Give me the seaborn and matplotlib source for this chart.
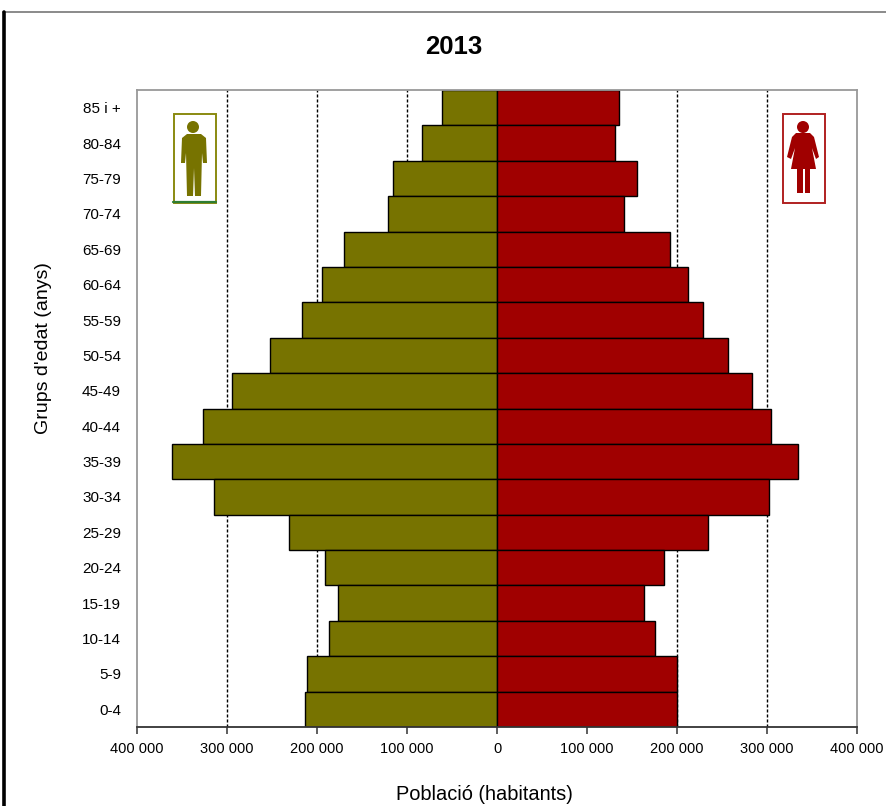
import matplotlib
matplotlib.use("Agg")
import matplotlib.pyplot as plt
import pandas as pd
import seaborn as sns
from matplotlib.lines import Line2D
from matplotlib.patches import Circle, FancyBboxPatch, Polygon, Rectangle
from matplotlib.ticker import FuncFormatter
from matplotlib.transforms import Affine2D

groups = ["85 i +", "80-84", "75-79", "70-74", "65-69", "60-64", "55-59", "50-54", "45-49",
          "40-44", "35-39", "30-34", "25-29", "20-24", "15-19", "10-14", "5-9", "0-4"]
men = [61000, 83000, 115500, 121000, 170000, 194000, 216500, 252000, 294000,
       326500, 361000, 314000, 231000, 191000, 176500, 186500, 211000, 213000]
women = [135500, 131000, 155500, 141000, 192000, 212000, 229000, 256500, 283000,
         304000, 334000, 302000, 234500, 185500, 163000, 175500, 200000, 200000]
grid_values = [-300000, -200000, -100000, 100000, 200000, 300000]

OLIVE = "#777300"
RED = "#a00000"

sns.set_style("white")
plt.rcParams["font.family"] = ["Liberation Sans", "DejaVu Sans"]
plt.rcParams["text.color"] = "black"
plt.rcParams["axes.labelcolor"] = "black"
plt.rcParams["xtick.labelcolor"] = "black"
plt.rcParams["ytick.labelcolor"] = "black"

df = pd.DataFrame({"group": groups, "men": [-v for v in men], "women": women})

fig = plt.figure(figsize=(8.87, 8.06), dpi=100)
ax = fig.add_axes([137 / 887, 1 - 727 / 806, 720 / 887, 637 / 806])

for value in grid_values:
    ax.axvline(value, color="black", lw=1.0, ls=(0, (2.2, 1.4)), zorder=0)

sns.barplot(data=df, x="men", y="group", orient="y", color=OLIVE, saturation=1,
            width=1, edgecolor="black", linewidth=1.0, ax=ax, zorder=2)
sns.barplot(data=df, x="women", y="group", orient="y", color=RED, saturation=1,
            width=1, edgecolor="black", linewidth=1.0, ax=ax, zorder=2)

ax.set_xlim(-400000, 400000)
ax.set_ylim(len(groups) - 0.5, -0.5)
ax.set_xticks(range(-400000, 400001, 100000))
ax.xaxis.set_major_formatter(FuncFormatter(lambda v, _: f"{abs(int(v)):,}".replace(",", " ")))
ax.tick_params(axis="x", bottom=True, length=5, width=1.1, color="#333333", labelsize=10.5, pad=6)
ax.tick_params(axis="y", left=False, labelsize=11, pad=8)
for name in ["left", "top", "right"]:
    ax.spines[name].set_color("#999999")
    ax.spines[name].set_linewidth(1.3)
ax.spines["bottom"].set_color("#333333")
ax.spines["bottom"].set_linewidth(1.3)

ax.set_xlabel("Població (habitants)", fontsize=14.4, va="center")
ax.xaxis.set_label_coords(484 / 887, 1 - 795 / 806, transform=fig.transFigure)
ax.set_ylabel("Grups d'edat (anys)", fontsize=14, va="center")
ax.yaxis.set_label_coords(44 / 887, 1 - 348 / 806, transform=fig.transFigure)
fig.text(454 / 887, 1 - 46.5 / 806, "2013", ha="center", va="center", fontsize=18.5, fontweight="bold")

# icons and the window frame are placed in pixels of the picture
px = Affine2D().scale(1, -1).translate(0, 806)


def add(patch):
    patch.set_transform(px)
    fig.add_artist(patch)


def box(x0, y0, x1, y1, color):
    add(FancyBboxPatch((x0, y0), x1 - x0, y1 - y0, boxstyle="square,pad=0",
                       fc="white", ec=color, lw=1.4))


def fill(points, color):
    add(Polygon(points, closed=True, fc=color, ec="none"))


box(173.5, 113.5, 215.5, 202.5, "#8a8a10")
fig.add_artist(Line2D([173, 216], [202, 202], transform=px, color="#2e7d32", lw=1.6))
add(Circle((193, 127), 6, fc=OLIVE, ec="none"))
fill([(187, 134), (201, 134), (206, 138), (207, 163), (203, 163), (202, 153), (201, 196),
      (195, 196), (194, 168), (193, 196), (187, 196), (186, 153), (185, 163), (181, 163),
      (182, 138)], OLIVE)

box(782.5, 113.5, 825, 203, "#b02020")
add(Circle((803, 127), 6, fc=RED, ec="none"))
fill([(796, 133), (810, 133), (814, 137), (819, 157), (816, 159), (812, 148), (816, 169),
      (791, 169), (795, 148), (791, 159), (787, 157), (792, 137)], RED)
add(Rectangle((797, 169), 5.5, 24, fc=RED, ec="none"))
add(Rectangle((804.5, 169), 5.5, 24, fc=RED, ec="none"))

fig.add_artist(Line2D([3, 887], [12, 12], transform=px, color="#777777", lw=1.2))
fig.add_artist(Line2D([3.5, 3.5], [12, 806], transform=px, color="black", lw=2.6))

fig.savefig("out.png", dpi=100)
